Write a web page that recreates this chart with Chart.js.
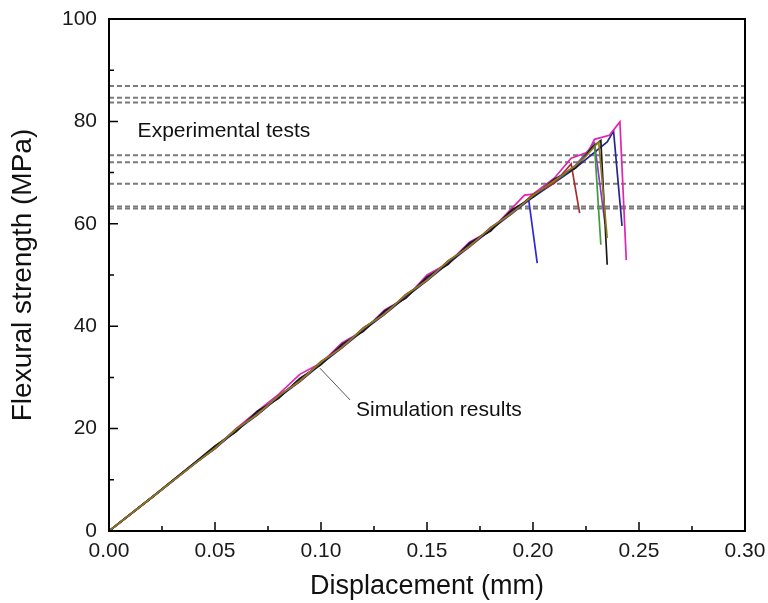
<!DOCTYPE html>
<html>
  <head>
    <title>flexural strength vs displacement</title>
    <script src="https://cdn.jsdelivr.net/npm/chart.js@4/dist/chart.umd.min.js"></script>
    <style>
      body { margin: 0; background: #fff; }
      #wrap { width: 768px; height: 603px; }
    </style>
  </head>

  <body>
    <div id="wrap">
      <canvas id="canvas"></canvas>
    </div>

    <script>
      // displacement (mm) shared by the rising part of every simulation curve
      const disp = [0, 0.02, 0.04, 0.05, 0.06, 0.07, 0.08, 0.09, 0.10, 0.11, 0.12, 0.13, 0.14, 0.15, 0.16, 0.17, 0.18, 0.19];

      // stress (MPa) on disp, then the peak + drop of each run as [x, y]
      const oliveY = [0, 6.5, 13.0, 16.2, 19.9, 22.8, 26.4, 29.3, 33.0, 35.9, 39.6, 42.4, 46.1, 49.0, 52.7, 55.6, 59.2, 62.1];
      const oliveTail = [[0.20, 65.5], [0.21, 68.4], [0.22, 71.3], [0.225, 73.2], [0.231, 76.0], [0.235, 57.2]];
      const blackY = [0, 6.5, 13.2, 16.6, 19.4, 23.4, 25.9, 29.8, 32.5, 36.5, 39.0, 43.0, 45.5, 49.6, 52.1, 56.2, 58.6, 62.7];
      const blackTail = [[0.20, 65.2], [0.21, 68.7], [0.22, 70.9], [0.228, 75.0], [0.232, 76.3], [0.235, 52.0]];
      const redY = [0, 6.5, 13.1, 16.1, 20.0, 22.7, 26.5, 29.2, 33.1, 35.8, 39.7, 42.3, 46.2, 48.9, 52.8, 55.5, 59.3, 62.0];
      const redTail = [[0.20, 65.8], [0.21, 67.9], [0.218, 71.7], [0.222, 62.1]];
      const blueY = [0, 6.5, 13.0, 16.4, 19.5, 23.2, 26.0, 29.7, 32.6, 36.3, 39.2, 42.8, 45.7, 49.4, 52.3, 56.0, 58.8, 62.5];
      const blueTail = [[0.198, 64.6], [0.202, 52.3]];
      const greenY = [0, 6.5, 13.1, 16.5, 19.7, 22.9, 26.3, 29.4, 32.9, 36.0, 39.5, 42.6, 45.9, 49.1, 52.6, 55.7, 59.1, 62.2];
      const greenTail = [[0.20, 65.4], [0.21, 68.3], [0.22, 71.2], [0.229, 75.4], [0.232, 55.9]];
      const magentaY = [0, 6.5, 13.2, 16.2, 20.0, 23.4, 26.7, 30.6, 32.8, 36.8, 39.1, 43.2, 45.5, 50.0, 52.3, 56.4, 58.7, 63.0];
      const magentaTail = [[0.196, 65.6], [0.20, 65.8], [0.21, 68.9], [0.218, 72.8], [0.226, 74.0], [0.229, 76.5], [0.236, 77.3], [0.241, 79.9], [0.244, 52.9]];
      const navyY = [0, 6.5, 13.0, 16.1, 19.6, 22.7, 26.1, 29.2, 32.6, 35.8, 39.2, 42.3, 45.7, 48.9, 52.3, 55.5, 58.8, 62.0];
      const navyTail = [[0.20, 65.2], [0.21, 68.0], [0.22, 70.9], [0.23, 74.3], [0.235, 76.0], [0.238, 78.1], [0.242, 59.6]];
      const purpleY = [0, 6.5, 13.1, 16.4, 19.8, 23.0, 26.2, 29.5, 32.8, 36.1, 39.4, 42.6, 45.9, 49.2, 52.5, 55.8, 59.0, 62.3];
      const purpleTail = [[0.20, 65.5], [0.21, 68.4], [0.22, 71.4], [0.229, 75.8], [0.234, 60.0]];

      // experimental flexural strengths (MPa), drawn as dashed lines
      const expStrength = [86.9, 84.6, 83.7, 73.4, 72.0, 67.8, 63.4, 63.0];

      const xTicks = [0, 0.05, 0.10, 0.15, 0.20, 0.25, 0.30];
      const yTicks = [0, 20, 40, 60, 80, 100];

      function curve(ys, tail) {
        let pts = ys.map((y, i) => ({ x: disp[i], y: y }));
        tail.forEach((p) => pts.push({ x: p[0], y: p[1] }));
        return pts;
      }

      let sims = [
        { label: "olive", color: "#8c7a22", data: curve(oliveY, oliveTail) },
        { label: "black", color: "#1a1a1a", data: curve(blackY, blackTail) },
        { label: "red", color: "#a8302c", data: curve(redY, redTail) },
        { label: "blue", color: "#2b2bd0", data: curve(blueY, blueTail) },
        { label: "green", color: "#3f9c3a", data: curve(greenY, greenTail) },
        { label: "magenta", color: "#e025b4", data: curve(magentaY, magentaTail) },
        { label: "navy", color: "#26268e", data: curve(navyY, navyTail) },
        { label: "purple", color: "#8a3ad0", data: curve(purpleY, purpleTail) },
      ];

      let datasets = sims.map((s) => ({
        label: s.label,
        data: s.data,
        borderColor: s.color,
        borderWidth: 1.7,
        pointRadius: 0,
        showLine: true,
      }));

      expStrength.forEach((v) => {
        datasets.push({
          label: "exp " + v,
          data: [{ x: 0, y: v }, { x: 0.3, y: v }],
          borderColor: "#7a7a7a",
          borderWidth: 2,
          borderDash: [5, 3],
          pointRadius: 0,
          showLine: true,
        });
      });

      // frame, inward ticks and the two text notes
      const decor = {
        id: "decor",
        afterDatasetsDraw(chart) {
          const c = chart.ctx;
          const xs = chart.scales.x;
          const ys = chart.scales.y;
          const a = chart.chartArea;
          c.save();
          c.strokeStyle = "#000";
          c.lineWidth = 2;
          c.strokeRect(a.left, a.top, a.right - a.left, a.bottom - a.top);

          c.lineWidth = 1.5;
          c.beginPath();
          for (let i = 0; i <= 12; i++) {
            let px = xs.getPixelForValue(i * 0.025);
            let len = i % 2 === 0 ? 9 : 5;
            c.moveTo(px, a.bottom);
            c.lineTo(px, a.bottom - len);
          }
          for (let i = 0; i <= 10; i++) {
            let py = ys.getPixelForValue(i * 10);
            let len = i % 2 === 0 ? 9 : 5;
            c.moveTo(a.left, py);
            c.lineTo(a.left + len, py);
          }
          c.stroke();

          c.strokeStyle = "#555";
          c.lineWidth = 1;
          c.beginPath();
          c.moveTo(xs.getPixelForValue(0.0995), ys.getPixelForValue(31.8));
          c.lineTo(xs.getPixelForValue(0.1137), ys.getPixelForValue(25.6));
          c.stroke();

          c.fillStyle = "#111";
          c.font = "21px 'Liberation Sans', Arial, sans-serif";
          c.textBaseline = "middle";
          c.textAlign = "left";
          c.fillText("Experimental tests", xs.getPixelForValue(0.0135), ys.getPixelForValue(78.0));
          c.fillText("Simulation results", xs.getPixelForValue(0.1165), ys.getPixelForValue(23.6));
          c.restore();
        },
      };

      const tickFont = { family: "'Liberation Sans', Arial, sans-serif", size: 21 };

      let config = {
        type: "scatter",
        data: { datasets: datasets },
        options: {
          responsive: false,
          animation: false,
          layout: { padding: { left: 0, right: 23, top: 19, bottom: 0 } },
          plugins: { legend: { display: false }, tooltip: { enabled: false } },
          scales: {
            x: {
              type: "linear",
              min: 0,
              max: 0.3,
              afterBuildTicks: (s) => { s.ticks = xTicks.map((v) => ({ value: v })); },
              afterFit: (s) => { s.height = 72; s.paddingRight = 0; s.paddingLeft = 0; },
              grid: { display: false, drawTicks: false },
              border: { display: false },
              ticks: {
                color: "#1a1a1a",
                font: tickFont,
                padding: 8,
                maxRotation: 0,
                callback: (v) => v.toFixed(2),
              },
              title: {
                display: true,
                text: "Displacement (mm)",
                color: "#111",
                font: { family: "'Liberation Sans', Arial, sans-serif", size: 27 },
                padding: { top: 0, bottom: 0 },
              },
            },
            y: {
              type: "linear",
              min: 0,
              max: 100,
              afterBuildTicks: (s) => { s.ticks = yTicks.map((v) => ({ value: v })); },
              afterFit: (s) => { s.width = 109; s.paddingTop = 0; s.paddingBottom = 0; },
              grid: { display: false, drawTicks: false },
              border: { display: false },
              ticks: {
                color: "#1a1a1a",
                font: tickFont,
                padding: 12,
                callback: (v) => String(v),
              },
              title: {
                display: true,
                text: "Flexural strength (MPa)",
                color: "#111",
                font: { family: "'Liberation Sans', Arial, sans-serif", size: 28 },
                padding: { top: 6, bottom: 0 },
              },
            },
          },
        },
        plugins: [decor],
      };

      var canvas = document.getElementById("canvas");
      canvas.width = 768;
      canvas.height = 603;
      var chart = new Chart(canvas.getContext("2d"), config);
    </script>
  </body>
</html>
